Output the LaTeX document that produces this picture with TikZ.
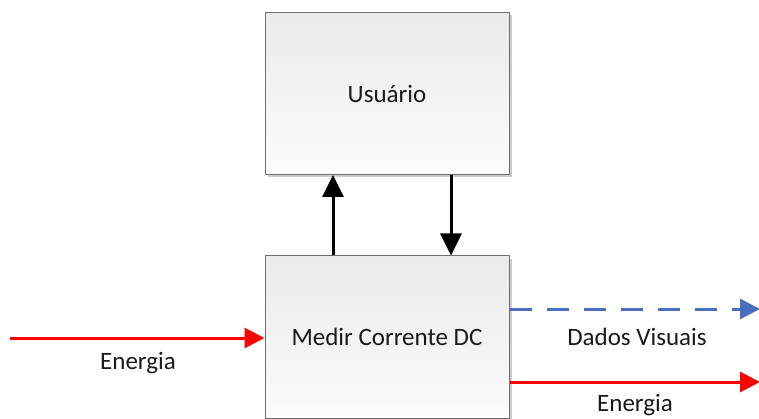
\documentclass[tikz,border=0pt]{standalone}
\usepackage{fontspec}
\setmainfont{Carlito}
\usetikzlibrary{arrows.meta,shadows}
\definecolor{boxline}{HTML}{6E6E6E}
\definecolor{boxtop}{HTML}{EAEAEA}
\definecolor{boxbot}{HTML}{FBFBFB}
\definecolor{myred}{HTML}{FF0000}
\definecolor{myblue}{HTML}{4A6EBF}
\definecolor{txt}{HTML}{1A1A1A}
\tikzset{
  blockbox/.style={draw=boxline, line width=1pt, top color=boxtop, bottom color=boxbot,
    minimum width=244pt, minimum height=162pt, inner sep=0pt, text=txt,
    font=\fontsize{25}{30}\selectfont,
    drop shadow={shadow xshift=3pt, shadow yshift=-3pt, fill=black!20, opacity=1}},
  blackarrow/.style={line width=3pt, draw=black, -{Triangle[length=22pt,width=21pt]}},
  redarrow/.style={line width=3pt, draw=myred, -{Triangle[length=20pt,width=20pt]}},
  bluearrow/.style={line width=3pt, draw=myblue, dash pattern=on 22pt off 15pt, -{Triangle[length=20pt,width=20pt]}},
  lbl/.style={font=\fontsize{25}{30}\selectfont, text=txt, inner sep=0pt}
}
\begin{document}
\begin{tikzpicture}[x=1pt,y=-1pt]
\useasboundingbox (0,0) rectangle (759,419);
\fill[white] (0,0) rectangle (759,419);
\node[blockbox] (usr) at (387,93.5) {Usuário};
\node[blockbox] (med) at (387,337) {Medir Corrente DC};
\coordinate (upx) at (333,0);
\coordinate (dnx) at (451,0);
\draw[blackarrow] (med.north -| upx) -- (usr.south -| upx);
\draw[blackarrow] (usr.south -| dnx) -- (med.north -| dnx);
\coordinate (lin) at (10,338);
\draw[redarrow] (lin) -- (med.west |- lin);
\coordinate (bout) at (760,309);
\draw[bluearrow] (med.east |- bout) -- (bout);
\coordinate (rout) at (760,382);
\draw[redarrow] (med.east |- rout) -- (rout);
\node[lbl] (e1) at (138,363) {Energia};
\node[lbl] (dv) at (637,337) {Dados Visuais};
\node[lbl] (e2) at (635,405) {Energia};
\end{tikzpicture}
\end{document}
